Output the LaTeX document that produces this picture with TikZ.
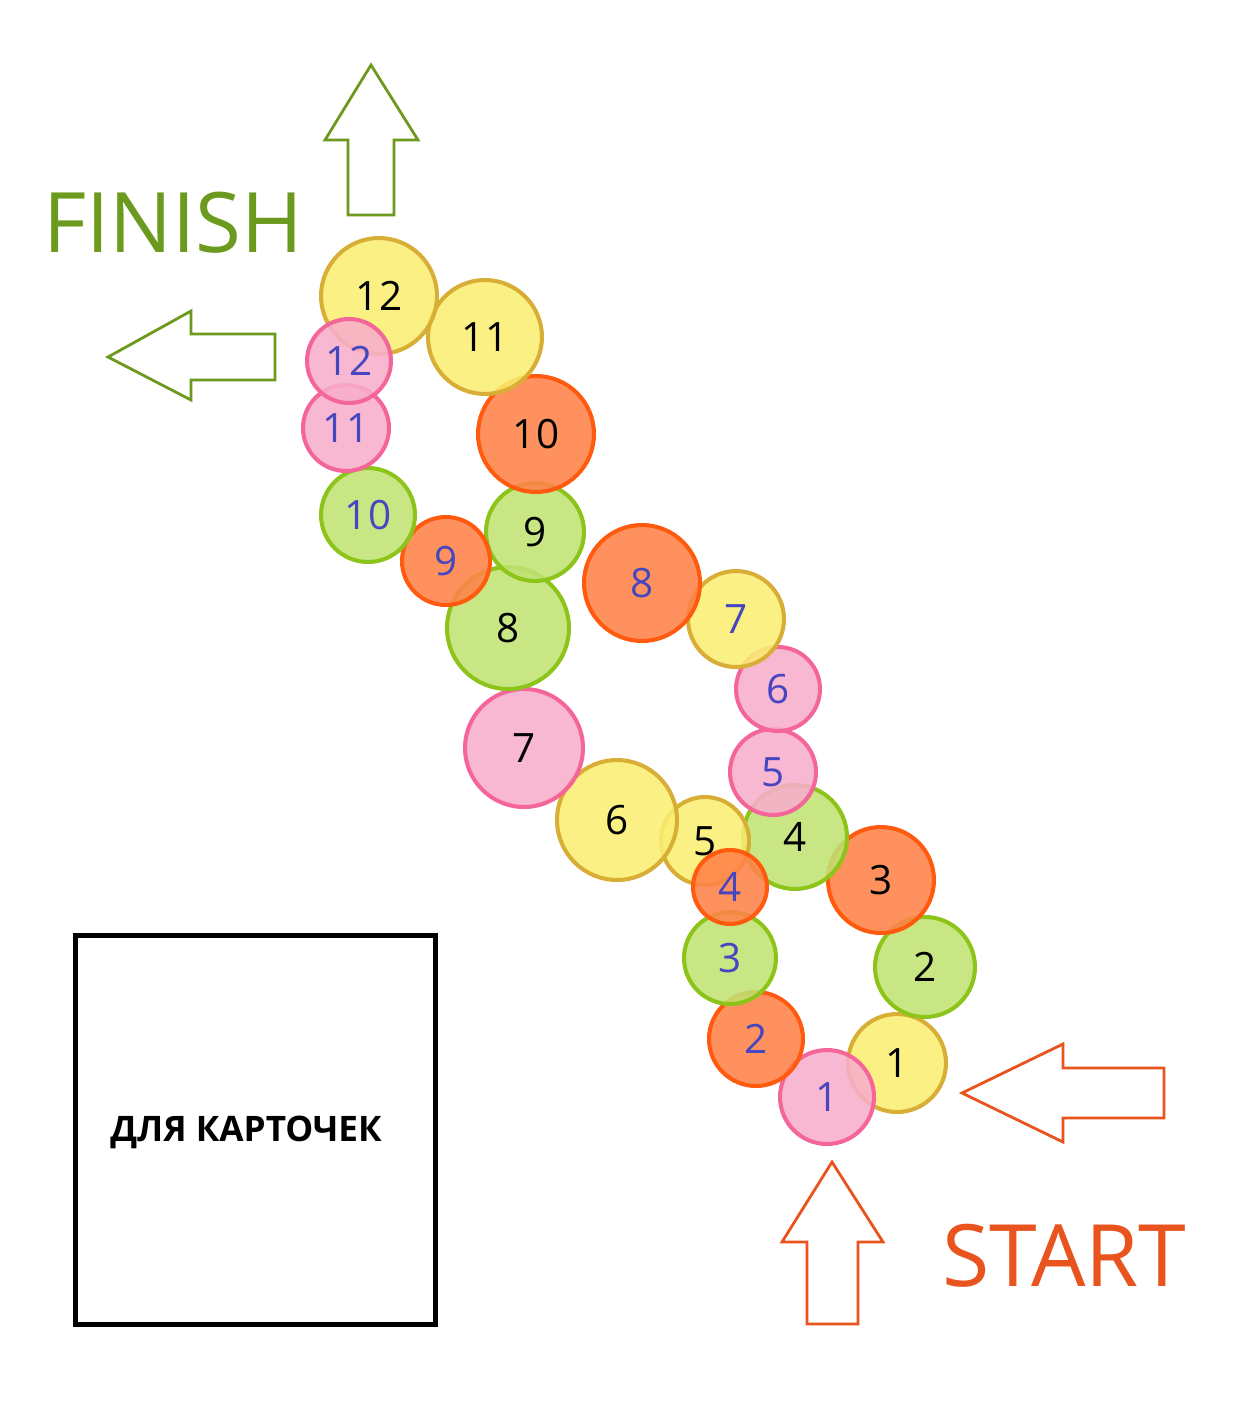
\documentclass[tikz,border=0pt]{standalone}
\usepackage{fontspec}
\setmainfont{Open Sans}

\definecolor{finishgreen}{HTML}{6B9A1E}
\definecolor{startorange}{HTML}{E8531E}
\definecolor{numblue}{HTML}{4646C0}
\definecolor{lemfill}{HTML}{FAEE72}
\definecolor{lemline}{HTML}{D8AE36}
\definecolor{orfill}{HTML}{FF8248}
\definecolor{orline}{HTML}{FF5A0E}
\definecolor{limefill}{HTML}{C0E272}
\definecolor{limeline}{HTML}{8CC41A}
\definecolor{rosefill}{HTML}{F8AECB}
\definecolor{roseline}{HTML}{F4669A}

\tikzset{
  slice/.style={circle, draw=#1line, fill=#1fill, line width=2.3pt,
    fill opacity=0.88, text opacity=1, inner sep=0pt,
    font=\fontsize{23}{23}\selectfont},
  hollow/.style={draw=#1, line width=1.6pt, line join=miter},
  bigword/.style={anchor=base west, inner sep=0pt, text=#1,
    font=\fontsize{49}{49}\selectfont},
}

\begin{document}
\begin{tikzpicture}[x=0.02cm, y=-0.02cm]
\useasboundingbox (0,0) rectangle (1243,1421);

% black track
\foreach \n/\x/\y/\r/\c in {1/897/1063/49/lem, 2/925/967/50/lime,
    3/881/880/53/or, 4/795/837/52/lime, 5/705/841/44/lem,
    6/617/820/60/lem, 7/524/748/59/rose, 8/508/628/61/lime,
    9/535/532/49/lime, 10/536/434/58/or, 11/485/337/57/lem,
    12/379/296/58/lem}
  \node[slice=\c, minimum size=\r*0.04cm, text=black] (b\n) at (\x,\y) {\n};

% blue track
\foreach \n/\x/\y/\r/\c in {1/827/1097/47/rose, 2/756/1039/47/or,
    3/730/958/46/lime, 4/730/887/37/or, 5/773/772/43/rose,
    6/778/689/42/rose, 7/736/619/48/lem, 8/642/583/58/or,
    9/446/561/44/or, 10/368/515/47/lime, 11/346/428/43/rose,
    12/349/361/42/rose}
  \node[slice=\c, minimum size=\r*0.04cm, text=numblue] (u\n) at (\x,\y) {\n};

% arrows
\draw[hollow=finishgreen] (371,65) -- (418,140) -- (394,140) -- (394,215)
  -- (348,215) -- (348,140) -- (325,140) -- cycle;
\draw[hollow=finishgreen] (108,357) -- (191,311) -- (191,334) -- (275,334)
  -- (275,380) -- (191,380) -- (191,400) -- cycle;
\draw[hollow=startorange] (962,1093) -- (1063,1044) -- (1063,1068) -- (1164,1068)
  -- (1164,1118) -- (1063,1118) -- (1063,1142) -- cycle;
\draw[hollow=startorange] (832,1162) -- (883,1242) -- (858,1242) -- (858,1324)
  -- (807,1324) -- (807,1242) -- (782,1242) -- cycle;

\node[bigword=finishgreen, font=\fontsize{47.5}{47.5}\selectfont]
  (finish) at (43,252) {FINISH};
\node[bigword=startorange] (start) at (942,1286) {START};

% box for cards
\node[draw, line width=2.8pt, minimum width=7.2cm, minimum height=7.78cm]
  (card) at (255.5,1130) {};
\node[font=\bfseries\fontsize{20}{20}\selectfont, inner sep=0pt]
  (cardlbl) at (246,1132) {ДЛЯ КАРТОЧЕК};
\end{tikzpicture}
\end{document}
